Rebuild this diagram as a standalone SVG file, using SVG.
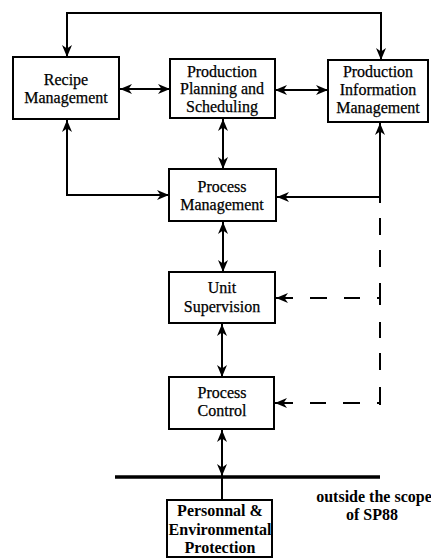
<svg xmlns="http://www.w3.org/2000/svg" width="431" height="559" viewBox="0 0 431 559">
<style>
.box{fill:#fff;stroke:#000;stroke-width:2}
.t{font-family:"Liberation Serif","Times New Roman",serif;font-size:16px;fill:#000;text-anchor:middle;stroke:#000;stroke-width:0.25}
.b{font-weight:bold;stroke-width:0}
.c{fill:none;stroke:#000;stroke-width:2}
</style>
<defs>
<marker id="ah" viewBox="0 0 12 10" refX="12" refY="5" markerWidth="12" markerHeight="10" markerUnits="userSpaceOnUse" orient="auto-start-reverse">
<path d="M12,5 L0,0 L3.5,5 L0,10 Z" fill="#000"/>
</marker>
</defs>
<rect width="431" height="559" fill="#fff"/>
<g id="connectors">
<path class="c" d="M67,57 V13 H381 V60" marker-start="url(#ah)" marker-end="url(#ah)"/>
<line class="c" x1="120" y1="89" x2="170" y2="89" marker-start="url(#ah)" marker-end="url(#ah)"/>
<line class="c" x1="275" y1="90" x2="328" y2="90" marker-start="url(#ah)" marker-end="url(#ah)"/>
<line class="c" x1="223" y1="119" x2="223" y2="169" marker-start="url(#ah)" marker-end="url(#ah)"/>
<path class="c" d="M67,120 V195 H169" marker-start="url(#ah)" marker-end="url(#ah)"/>
<path class="c" d="M380,123 V197 H277" marker-start="url(#ah)" marker-end="url(#ah)"/>
<line class="c" x1="380" y1="197" x2="380" y2="203"/>
<line class="c" x1="223" y1="222" x2="223" y2="272" marker-start="url(#ah)" marker-end="url(#ah)"/>
<line class="c" x1="222" y1="324" x2="222" y2="377" marker-start="url(#ah)" marker-end="url(#ah)"/>
<line class="c" x1="222" y1="430" x2="222" y2="476" marker-start="url(#ah)" marker-end="url(#ah)"/>
<line class="c" x1="222" y1="477" x2="222" y2="500"/>
<line x1="115" y1="477" x2="380" y2="477" stroke="#000" stroke-width="3.5"/>
<g class="c">
<line x1="380" y1="218" x2="380" y2="235"/>
<line x1="380" y1="250" x2="380" y2="267"/>
<line x1="380" y1="283" x2="380" y2="305"/>
<line x1="380" y1="322" x2="380" y2="338"/>
<line x1="380" y1="353" x2="380" y2="370"/>
<line x1="380" y1="387" x2="380" y2="405"/>
<line x1="310" y1="298" x2="327" y2="298"/>
<line x1="344" y1="298" x2="360" y2="298"/>
<line x1="377" y1="298" x2="381" y2="298"/>
<line x1="310" y1="403" x2="326" y2="403"/>
<line x1="343" y1="403" x2="360" y2="403"/>
<line x1="377" y1="403" x2="381" y2="403"/>
</g>
<line class="c" x1="293" y1="298" x2="276" y2="298" marker-end="url(#ah)"/>
<line class="c" x1="293" y1="403" x2="275" y2="403" marker-end="url(#ah)"/>
</g>
<g id="recipe"><rect class="box" x="13" y="57" width="106" height="62"/>
<text class="t" x="66" y="85">Recipe</text><text class="t" x="66" y="103">Management</text></g>
<g id="pps"><rect class="box" x="170" y="59" width="105" height="59"/>
<text class="t" x="222" y="77">Production</text><text class="t" x="222" y="94">Planning and</text><text class="t" x="222" y="112">Scheduling</text></g>
<g id="pim"><rect class="box" x="328" y="60" width="100" height="62"/>
<text class="t" x="378" y="77">Production</text><text class="t" x="378" y="95">Information</text><text class="t" x="378" y="113">Management</text></g>
<g id="pm"><rect class="box" x="169" y="169" width="107" height="52"/>
<text class="t" x="222" y="192">Process</text><text class="t" x="222" y="210">Management</text></g>
<g id="us"><rect class="box" x="169" y="272" width="106" height="51"/>
<text class="t" x="222" y="293">Unit</text><text class="t" x="222" y="312">Supervision</text></g>
<g id="pc"><rect class="box" x="169" y="377" width="105" height="52"/>
<text class="t" x="222" y="398">Process</text><text class="t" x="222" y="416">Control</text></g>
<g id="pep"><rect class="box" x="167" y="500" width="105" height="57"/>
<text class="t b" x="220" y="516">Personnal &amp;</text><text class="t b" x="220" y="535">Environmental</text><text class="t b" x="220" y="553">Protection</text></g>
<g id="scope-note">
<text class="t b" x="374" y="502">outside the scope</text><text class="t b" x="372" y="520">of SP88</text>
</g>
</svg>
